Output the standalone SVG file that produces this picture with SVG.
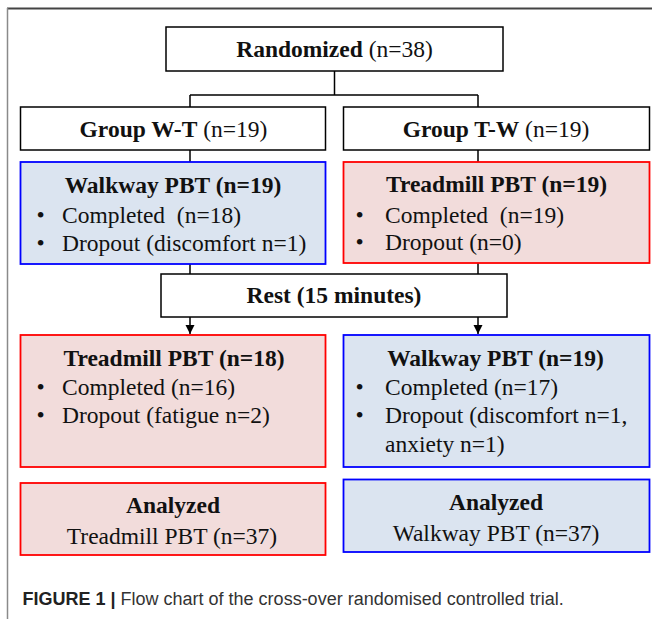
<svg xmlns="http://www.w3.org/2000/svg" width="652" height="619" viewBox="0 0 652 619">
<style>
  .box{fill:#ffffff;stroke:#000;stroke-width:1.5}
  .blue{fill:#dbe4f0;stroke:#0000ff;stroke-width:1.8}
  .red{fill:#f2dcdb;stroke:#ff0000;stroke-width:1.8}
  text{font-family:"Liberation Serif","Times New Roman",serif;font-size:23.5px;fill:#111}
  .b{font-weight:bold}
  .c{text-anchor:middle}
  .cap{font-family:"Liberation Sans",Arial,sans-serif;font-size:18px;fill:#333}
  .conn{stroke:#000;stroke-width:1.5;fill:none}
</style>
<defs>
  <marker id="arr" markerUnits="userSpaceOnUse" markerWidth="10" markerHeight="11" refX="9" refY="5" orient="auto">
    <path d="M0,0.5 L9,5 L0,9.5 Z" fill="#000"/>
  </marker>
</defs>
<g id="frame">
  <line x1="7" y1="8.5" x2="652" y2="8.5" stroke="#444" stroke-width="1.8"/>
  <line x1="7.5" y1="8" x2="7.5" y2="619" stroke="#8a8a8a" stroke-width="1.5"/>
</g>
<g id="connectors">
  <path class="conn" d="M334.5,71 V95 M190,95 H478 M190,95 V107 M478,95 V107"/>
  <path class="conn" d="M190,150 V162 M478,150 V162"/>
  <path class="conn" d="M190,264 V274 M478,263 V274"/>
  <path class="conn" d="M190,317 V334" marker-end="url(#arr)"/>
  <path class="conn" d="M478,317 V334" marker-end="url(#arr)"/>
</g>
<g id="randomized">
  <rect class="box" x="166" y="27" width="337" height="44"/>
  <text class="c" x="334.5" y="57"><tspan class="b">Randomized</tspan> (n=38)</text>
</g>
<g id="group-wt">
  <rect class="box" x="20.5" y="107" width="305" height="43"/>
  <text class="c" x="173.5" y="137"><tspan class="b">Group W-T</tspan> (n=19)</text>
</g>
<g id="group-tw">
  <rect class="box" x="343.5" y="107" width="306" height="43"/>
  <text class="c" x="496" y="137"><tspan class="b">Group T-W</tspan> (n=19)</text>
</g>
<g id="walkway-1">
  <rect class="blue" x="20.5" y="162" width="305" height="102"/>
  <text class="c b" x="173" y="192.5">Walkway PBT (n=19)</text>
  <text class="c" x="40.5" y="222.5">•</text>
  <text x="62" y="222.5" xml:space="preserve">Completed  (n=18)</text>
  <text class="c" x="40.5" y="250.5">•</text>
  <text x="62" y="250.5">Dropout (discomfort n=1)</text>
</g>
<g id="treadmill-1">
  <rect class="red" x="343.5" y="162" width="306" height="101"/>
  <text class="c b" x="496.5" y="192">Treadmill PBT (n=19)</text>
  <text class="c" x="359.5" y="222.5">•</text>
  <text x="385" y="222.5" xml:space="preserve">Completed  (n=19)</text>
  <text class="c" x="359.5" y="250">•</text>
  <text x="385" y="250">Dropout (n=0)</text>
</g>
<g id="rest">
  <rect class="box" x="161" y="274" width="346" height="43"/>
  <text class="c b" x="334" y="303">Rest (15 minutes)</text>
</g>
<g id="treadmill-2">
  <rect class="red" x="20.5" y="335" width="305" height="132"/>
  <text class="c b" x="174" y="366">Treadmill PBT (n=18)</text>
  <text class="c" x="40.5" y="395">•</text>
  <text x="62" y="395">Completed (n=16)</text>
  <text class="c" x="40.5" y="423">•</text>
  <text x="62" y="423">Dropout (fatigue n=2)</text>
</g>
<g id="walkway-2">
  <rect class="blue" x="343.5" y="335" width="306" height="132"/>
  <text class="c b" x="495.5" y="366">Walkway PBT (n=19)</text>
  <text class="c" x="359.5" y="395">•</text>
  <text x="385" y="395">Completed (n=17)</text>
  <text class="c" x="359.5" y="423">•</text>
  <text x="385" y="423">Dropout (discomfort n=1,</text>
  <text x="385" y="451.5">anxiety n=1)</text>
</g>
<g id="analyzed-treadmill">
  <rect class="red" x="20.5" y="483" width="305" height="72"/>
  <text class="c b" x="173" y="512.5">Analyzed</text>
  <text class="c" x="172" y="544">Treadmill PBT (n=37)</text>
</g>
<g id="analyzed-walkway">
  <rect class="blue" x="343.5" y="479.5" width="306" height="72.5"/>
  <text class="c b" x="496" y="509.5">Analyzed</text>
  <text class="c" x="496" y="540.5">Walkway PBT (n=37)</text>
</g>
<g id="caption">
  <text class="cap" x="22.5" y="605"><tspan font-weight="bold" fill="#222">FIGURE 1 |</tspan> Flow chart of the cross-over randomised controlled trial.</text>
</g>
</svg>
